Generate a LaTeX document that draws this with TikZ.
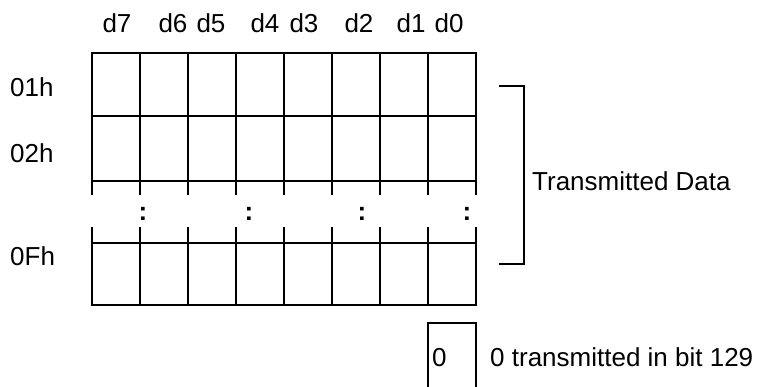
\documentclass[tikz,border=0pt]{standalone}
\usepackage{fontspec}
\setmainfont{Liberation Sans}
\usepackage{tikz}
\usetikzlibrary{positioning}

\begin{document}
\begin{tikzpicture}[x=1pt, y=-1pt,
    gridline/.style={line width=2pt},
    lbl/.style={inner sep=0pt, font=\fontsize{26}{29}\selectfont},
    collbl/.style={lbl, anchor=base},
    rowlbl/.style={lbl, anchor=base west},
    dots/.style={inner sep=0pt, font=\fontsize{26}{29}\selectfont\bfseries}]
    \useasboundingbox (0,0) rectangle (763,387);
    % Column labels
    \node[collbl] (d7) at (117,33) {d7};
    \node[collbl] (d6) at (173,33) {d6};
    \node[collbl] (d5) at (211,33) {d5};
    \node[collbl] (d4) at (265,33) {d4};
    \node[collbl] (d3) at (304,33) {d3};
    \node[collbl] (d2) at (359,33) {d2};
    \node[collbl] (d1) at (411,33) {d1};
    \node[collbl] (d0) at (449,33) {d0};
    % Row labels
    \node[rowlbl] (r01) at (10,97) {01h};
    \node[rowlbl] (r02) at (10,163) {02h};
    \node[rowlbl] (r0f) at (10,266) {0Fh};
    % Horizontal lines
    \draw[gridline] (92,53) -- (476,53);
    \draw[gridline] (92,116) -- (476,116);
    \draw[gridline] (92,181) -- (476,181);
    \draw[gridline] (92,243) -- (476,243);
    \draw[gridline] (92,305) -- (476,305);
    % Vertical lines, broken between 02h and 0Fh
    \draw[gridline] (92,52) -- (92,195) (92,227) -- (92,306);
    \draw[gridline] (140,53) -- (140,195) (140,227) -- (140,305);
    \draw[gridline] (188,53) -- (188,195) (188,227) -- (188,305);
    \draw[gridline] (236,53) -- (236,195) (236,227) -- (236,305);
    \draw[gridline] (284,53) -- (284,195) (284,227) -- (284,305);
    \draw[gridline] (332,53) -- (332,195) (332,227) -- (332,305);
    \draw[gridline] (380,53) -- (380,195) (380,227) -- (380,305);
    \draw[gridline] (428,53) -- (428,195) (428,227) -- (428,305);
    \draw[gridline] (476,52) -- (476,195) (476,227) -- (476,306);
    % Continuation marks
    \node[dots] (c1) at (143,214) {:};
    \node[dots] (c2) at (249,214) {:};
    \node[dots] (c3) at (362,214) {:};
    \node[dots] (c4) at (467,214) {:};
    % Bracket
    \draw[gridline] (499,86) -- (524,86) -- (524,264) -- (499,264);
    \node[rowlbl] (txdata) at (532,191) {Transmitted Data};
    % Extra bit
    \draw[gridline] (428,387) -- (428,323) -- (476,323) -- (476,387);
    \node[rowlbl] (bit) at (432,366) {0};
    \node[rowlbl] (bitnote) at (490,366) {0 transmitted in bit 129};
  \end{tikzpicture}
\end{document}
